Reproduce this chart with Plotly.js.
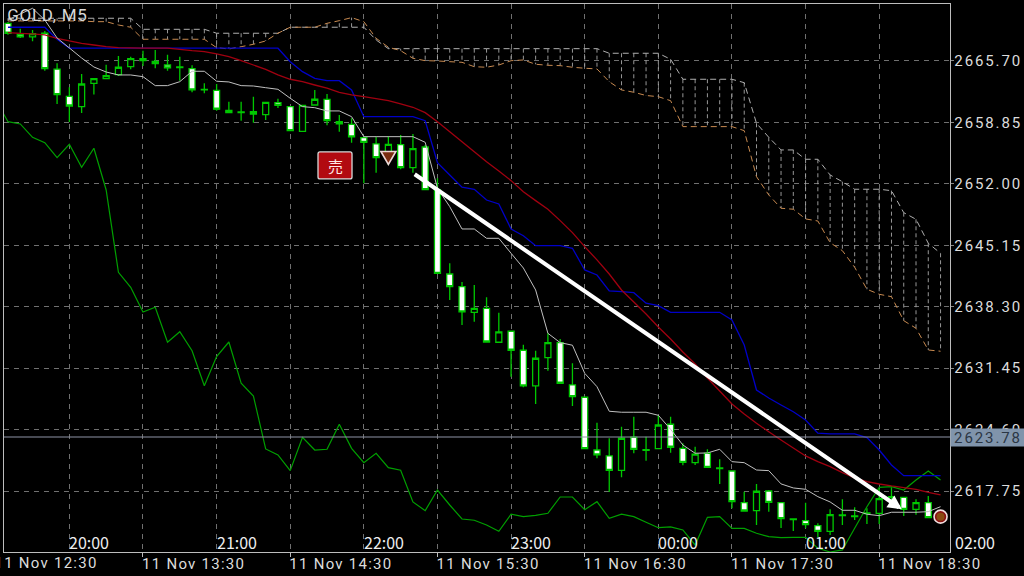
<!DOCTYPE html>
<html><head><meta charset="utf-8">
<script src="https://cdn.plot.ly/plotly-3.0.1.min.js"></script>
<style>
html,body{margin:0;padding:0;background:#000;}
.xtick text{letter-spacing:1.25px;}
.ytick text{letter-spacing:1.9px;}
.annotation[data-index="0"] text{letter-spacing:0.7px;}
.annotation[data-index="1"] text{letter-spacing:1.9px;}
.annotation[data-index="2"] text{letter-spacing:1.25px;}
</style></head><body><div id="chart" style="width:1024px;height:576px"></div>
<script>
const open=[2669.90,2668.68,2668.38,2668.79,2664.78,2661.76,2660.61,2663.21,2663.73,2664.18,2665.06,2665.96,2665.66,2665.25,2665.03,2664.84,2662.54,2662.43,2660.20,2660.02,2660.05,2659.72,2661.05,2660.61,2657.86,2660.79,2661.41,2658.93,2658.64,2657.15,2656.45,2655.22,2656.37,2653.80,2656.11,2651.32,2641.95,2640.54,2637.68,2638.13,2634.34,2635.57,2633.45,2629.47,2632.62,2634.30,2629.58,2628.21,2622.33,2621.67,2620.07,2623.75,2622.37,2622.48,2625.20,2622.52,2620.92,2621.97,2620.33,2619.99,2616.46,2615.57,2617.76,2616.46,2614.65,2614.45,2613.89,2613.27,2615.09,2614.98,2615.31,2615.27,2617.13,2617.06,2615.72,2616.46];
const close=[2668.79,2668.38,2668.74,2664.84,2661.95,2660.68,2663.13,2663.73,2664.06,2665.00,2665.96,2665.73,2665.40,2664.92,2664.96,2662.47,2662.47,2660.32,2659.94,2659.95,2659.79,2661.09,2660.76,2657.93,2660.76,2661.43,2659.04,2658.68,2657.23,2656.63,2654.92,2656.41,2653.80,2655.92,2651.35,2642.03,2640.54,2637.72,2638.13,2634.37,2635.49,2633.45,2629.47,2632.56,2634.30,2629.77,2628.28,2622.48,2621.78,2620.07,2623.64,2622.41,2622.30,2625.12,2622.64,2620.96,2621.86,2620.40,2620.26,2616.57,2615.53,2617.73,2616.50,2614.68,2614.58,2614.01,2613.27,2615.12,2615.02,2614.91,2615.24,2616.90,2617.06,2615.72,2616.46,2614.79];
const high=[2670.05,2669.30,2669.16,2669.04,2665.44,2662.77,2664.25,2663.73,2665.29,2666.26,2666.18,2666.85,2666.93,2666.40,2666.18,2665.22,2663.21,2663.13,2661.16,2661.16,2661.72,2661.09,2661.50,2660.68,2660.76,2662.47,2662.02,2659.68,2659.31,2657.26,2657.26,2657.34,2657.45,2657.56,2656.33,2652.62,2643.15,2641.06,2640.73,2639.36,2637.64,2635.57,2634.07,2633.40,2635.34,2634.71,2632.00,2628.24,2625.38,2623.64,2624.93,2626.05,2623.82,2626.24,2626.05,2623.08,2622.70,2622.41,2621.30,2619.99,2617.69,2618.55,2617.87,2616.46,2614.68,2616.46,2614.16,2615.72,2616.84,2615.95,2615.84,2618.06,2618.17,2617.06,2616.84,2617.20];
const low=[2668.63,2668.26,2667.90,2664.62,2660.90,2658.90,2659.90,2661.95,2663.66,2664.03,2664.78,2665.14,2664.89,2664.62,2663.50,2662.21,2662.10,2660.16,2659.87,2659.04,2658.82,2659.12,2660.46,2657.86,2657.86,2660.76,2658.53,2657.82,2656.59,2652.06,2653.25,2654.11,2653.63,2653.25,2651.32,2641.95,2639.06,2636.27,2636.64,2634.30,2634.30,2630.50,2629.32,2627.46,2631.17,2629.69,2627.24,2622.44,2621.41,2617.65,2619.29,2621.97,2621.14,2622.41,2622.03,2620.63,2620.66,2620.33,2618.55,2615.83,2615.46,2613.97,2615.46,2613.64,2613.30,2613.60,2612.60,2612.86,2613.97,2614.53,2614.09,2614.09,2616.01,2614.98,2615.12,2614.75];
const tenkan=[2670.27,2670.94,2671.57,2670.27,2668.26,2667.15,2666.03,2665.03,2664.47,2664.14,2664.14,2663.95,2662.95,2662.95,2663.39,2664.55,2664.55,2663.44,2663.36,2662.95,2662.91,2662.72,2662.54,2661.54,2660.61,2660.49,2660.13,2660.13,2659.49,2657.26,2657.26,2657.26,2657.26,2657.26,2656.63,2651.51,2649.46,2646.97,2646.97,2645.93,2645.93,2644.26,2642.62,2640.17,2635.34,2634.30,2634.01,2630.88,2629.39,2626.65,2626.54,2626.54,2626.54,2626.20,2624.64,2622.89,2621.97,2622.00,2622.41,2621.03,2620.92,2620.10,2620.03,2618.55,2618.10,2617.95,2617.13,2616.54,2615.61,2615.61,2615.17,2615.01,2615.39,2615.39,2615.39,2615.46,2616.01];
const kijun=[2669.46,2669.46,2669.46,2669.46,2668.12,2667.12,2667.12,2667.12,2667.12,2667.12,2667.12,2667.12,2667.12,2667.12,2667.12,2667.12,2667.12,2667.12,2667.12,2667.12,2667.12,2667.12,2667.12,2665.62,2664.51,2663.77,2663.50,2663.50,2662.47,2659.49,2659.49,2659.49,2659.49,2659.49,2659.04,2654.36,2652.99,2651.62,2651.40,2650.20,2649.76,2646.97,2646.22,2645.11,2645.11,2645.11,2644.82,2642.40,2641.84,2640.06,2639.98,2639.87,2638.69,2638.42,2637.68,2637.68,2637.68,2637.68,2637.68,2636.83,2634.04,2629.02,2628.13,2627.35,2626.60,2625.68,2624.20,2624.12,2624.12,2624.12,2623.71,2622.33,2620.66,2619.47,2619.47,2619.47,2619.47];
const slowLine=[2668.85,2668.77,2668.71,2668.60,2668.23,2667.93,2667.67,2667.48,2667.29,2667.18,2667.15,2667.12,2667.12,2667.12,2667.00,2666.85,2666.74,2666.48,2666.18,2665.73,2665.25,2664.77,2664.14,2663.66,2663.39,2663.02,2662.66,2662.21,2661.91,2661.72,2661.50,2661.27,2660.91,2660.54,2659.94,2658.93,2657.82,2656.70,2655.59,2654.47,2653.44,2652.36,2651.13,2650.13,2649.17,2647.90,2646.56,2645.00,2643.52,2641.95,2640.17,2638.83,2637.50,2636.05,2634.71,2633.26,2631.92,2630.36,2628.91,2627.46,2626.35,2625.31,2624.37,2623.45,2622.56,2621.67,2621.03,2620.47,2619.80,2619.21,2618.80,2618.54,2618.32,2618.13,2617.95,2617.62,2617.32];
const chikouX=[-1,0,1,2,3,4,5,6,7,8,9,10,11,12,13,14,15,16,17,18,19,20,21,22,23,24,25,26,27,28,29,30,31,32,33,34,35,36,37,38,39,40,41,42,43,44,45,46,47,48,49,50,51,52,53,54,55,56,57,58,59,60,61,62,63,64,65,66,67,68,69,70,71,72,73,74,75,76];
const chikou=[2661.35,2658.93,2658.68,2657.19,2656.59,2654.92,2656.41,2653.85,2655.97,2651.32,2642.14,2640.47,2637.72,2638.24,2634.34,2635.52,2633.40,2629.50,2632.74,2634.37,2629.77,2628.35,2622.45,2621.78,2620.03,2623.75,2622.33,2622.41,2625.20,2622.52,2620.92,2621.97,2620.36,2620.07,2616.54,2615.57,2617.87,2616.20,2614.64,2614.50,2613.97,2613.27,2615.17,2614.90,2615.05,2615.28,2617.09,2617.09,2615.68,2616.57,2614.72,2615.17,2614.90,2614.27,2613.67,2613.75,2613.42,2611.74,2614.83,2614.90,2613.60,2613.60,2613.05,2612.67,2612.56,2612.60,2612.60,2611.38,2610.96,2611.19,2613.60,2616.01,2618.17,2618.24,2617.87,2618.99,2620.00,2618.99];
const spanA=[2670.46,2670.46,2670.46,2670.46,2670.46,2670.46,2670.46,2670.46,2670.46,2670.46,2670.46,2669.23,2669.23,2669.23,2669.23,2669.23,2669.23,2668.79,2668.79,2668.79,2668.79,2668.79,2668.79,2669.46,2669.46,2669.46,2669.46,2669.46,2669.46,2669.46,2668.04,2667.07,2667.07,2667.07,2667.07,2667.07,2667.07,2667.07,2667.07,2667.07,2667.07,2667.07,2667.07,2667.07,2667.07,2667.07,2667.07,2667.07,2667.07,2666.56,2666.56,2666.56,2666.56,2666.56,2665.89,2663.66,2663.66,2663.66,2663.66,2663.66,2663.28,2658.75,2657.19,2655.78,2655.78,2654.74,2654.74,2652.99,2652.24,2651.40,2651.40,2651.40,2651.24,2648.79,2648.05,2645.38,2644.26];
const spanB=[2670.16,2670.16,2670.16,2670.16,2670.16,2670.16,2670.16,2670.08,2670.08,2669.71,2669.46,2668.12,2668.12,2668.12,2668.12,2668.12,2668.12,2667.18,2667.04,2667.29,2667.56,2667.93,2668.79,2669.46,2669.46,2669.46,2669.90,2670.19,2670.53,2670.08,2668.23,2667.23,2666.85,2666.00,2665.73,2665.70,2665.62,2665.55,2665.06,2665.00,2665.25,2665.73,2665.81,2665.33,2665.22,2665.18,2665.00,2664.89,2664.81,2663.39,2662.47,2662.21,2661.85,2661.72,2661.27,2658.38,2658.38,2658.38,2658.38,2658.38,2657.93,2652.80,2650.76,2649.28,2649.17,2648.09,2647.86,2645.44,2644.55,2642.70,2640.25,2639.69,2639.42,2636.75,2635.90,2633.48,2633.34];

const barX=open.map((_,i)=>i);
const lineX=spanA.map((_,i)=>i);
const priceTicks=[2617.75,2624.60,2631.45,2638.30,2645.15,2652.00,2658.85,2665.70];
const dateTicks=[11,23,35,47,59,71];
const dateLabels=['11 Nov 13:30','11 Nov 14:30','11 Nov 15:30','11 Nov 16:30','11 Nov 17:30','11 Nov 18:30'];
const gridOnly=[5,17,29,41,53,65];
const hourTicks=[5,17,29,41,53,65];
const hourLabels=['20:00','21:00','22:00','23:00','00:00','01:00'];
const lastPrice=2623.78;

const hatchX=[],hatchY=[];
lineX.forEach(i=>{hatchX.push(i,i,null);hatchY.push(spanA[i],spanB[i],null);});

const line=(x,y,color,width,dash)=>({type:'scatter',mode:'lines',x,y,hoverinfo:'skip',showlegend:false,connectgaps:false,line:{color,width,dash:dash||'solid',simplify:false}});
const traces=[
 {type:'candlestick',x:barX,open,high,low,close,whiskerwidth:0,showlegend:false,hoverinfo:'skip',
  increasing:{line:{color:'#00c800',width:1.3},fillcolor:'#000000'},
  decreasing:{line:{color:'#00c800',width:1.3},fillcolor:'#ffffff'}},
 line(hatchX,hatchY,'#a8a8a8',0.9,'4px,3px'),
 line(lineX,spanA,'#b0b0b0',1,'6px,4px'),
 line(lineX,spanB,'#c88a50',1,'6px,4px'),
 line(chikouX,chikou,'#00a000',1.2),
 line(lineX,kijun,'#0000c8',1.3),
 line(lineX,slowLine,'#a00010',1.3),
 line(lineX,tenkan,'#c0c0c0',1),
 {type:'scatter',mode:'markers',x:[76],y:[2614.90],hoverinfo:'skip',showlegend:false,marker:{symbol:'circle',size:13,color:'#8a1010',line:{color:'#f0dede',width:1.6}}},
 {type:'scatter',mode:'markers',x:[76],y:[2614.90],hoverinfo:'skip',showlegend:false,marker:{symbol:'circle',size:8,color:'#8a4a10'}}
];

const white='#dcdcdc';
const annotations=[
 {xref:'paper',yref:'paper',x:0.0045,y:0.9995,xanchor:'left',yanchor:'top',yshift:1,showarrow:false,text:'GOLD, M5',font:{family:'Roboto',size:17,color:'#d8d8d8'}},
 {xref:'paper',yref:'y',x:1,y:lastPrice,xanchor:'left',yanchor:'middle',showarrow:false,text:'2623.78',width:74,height:17,borderpad:0,align:'center',bgcolor:'#8094ab',font:{family:'Roboto',size:15,color:'#2b3644'}},
 {xref:'paper',yref:'paper',x:-0.0047,y:0,xanchor:'left',yanchor:'top',yshift:0,showarrow:false,text:'11 Nov 12:30',font:{family:'Roboto',size:15,color:white}},
 {xref:'x',yref:'y',x:26.65,y:2654.05,showarrow:false,text:'売',font:{family:'Noto Sans CJK JP',size:15,color:'#ffe8e8'}},
 {xref:'x',yref:'y',x:72.85,y:2615.72,axref:'x',ayref:'y',ax:32.9,ay:2653.3,showarrow:true,text:' ',arrowcolor:'#ffffff',arrowwidth:4,arrowhead:2,arrowsize:0.7},
 {xref:'paper',yref:'paper',x:1.0032,y:0,xanchor:'left',yanchor:'bottom',yshift:-4,showarrow:false,text:'02:00',font:{family:'Noto Sans CJK JP',size:16,color:'#eeeeee'}}
].concat(hourTicks.map((x,k)=>({xref:'x',yref:'paper',x,y:0,xanchor:'left',yanchor:'bottom',showarrow:false,xshift:-2,yshift:-4,text:hourLabels[k],font:{family:'Noto Sans CJK JP',size:16,color:'#eeeeee'}})));

const layout={
 width:1024,height:576,paper_bgcolor:'#000',plot_bgcolor:'#000',showlegend:false,dragmode:false,
 margin:{l:4,r:74,t:4,b:24,pad:0},
 font:{family:'Roboto',color:white},
 xaxis:{type:'linear',range:[-0.326,76.77],rangeslider:{visible:false},tickmode:'array',tickvals:dateTicks,ticktext:dateLabels,
  ticks:'outside',ticklen:4,tickcolor:'#bbb',tickwidth:1,ticklabelposition:'outside right',tickangle:0,ticklabelshift:-2,ticklabelstandoff:-2,
  tickfont:{family:'Roboto',size:15,color:white},
  showgrid:true,gridcolor:'#707070',griddash:'5px,5px',gridwidth:1,zeroline:false,
  showline:true,mirror:true,linecolor:'#bdbdbd',linewidth:1.3,
  minor:{tickmode:'array',tickvals:gridOnly,showgrid:true,gridcolor:'#707070',griddash:'5px,5px',gridwidth:1,ticks:''}},
 yaxis:{side:'right',range:[2610.96,2672.05],tickmode:'array',tickvals:priceTicks,ticktext:priceTicks.map(v=>v.toFixed(2)),
  ticks:'outside',ticklen:3,tickcolor:'#888',tickwidth:1,ticklabelstandoff:-3,tickfont:{family:'Roboto',size:15,color:white},
  showgrid:true,gridcolor:'#707070',griddash:'5px,5px',gridwidth:1,zeroline:false,
  showline:true,mirror:true,linecolor:'#bdbdbd',linewidth:1.3},
 shapes:[
  {type:'line',xref:'paper',yref:'y',x0:0,x1:1,y0:lastPrice,y1:lastPrice,line:{color:'#8f94a6',width:1}},
  {type:'path',xref:'x',yref:'y',xsizemode:'pixel',ysizemode:'pixel',xanchor:26.65,yanchor:2654.05,
   path:'M-15,-13.5 H15 Q17,-13.5 17,-11.5 V11.5 Q17,13.5 15,13.5 H-15 Q-17,13.5 -17,11.5 V-11.5 Q-17,-13.5 -15,-13.5 Z',
   fillcolor:'#b20a10',line:{color:'#d8d8d8',width:1.3}},
  {type:'path',xref:'x',yref:'y',xsizemode:'pixel',ysizemode:'pixel',xanchor:31,yanchor:2654.88,
   path:'M-7.5,6.5 H7.5 L0,-6.5 Z',fillcolor:'#7a2c10',line:{color:'#ecd6d6',width:1.6}}
 ],
 annotations
};
Plotly.newPlot('chart',traces,layout,{staticPlot:true,displayModeBar:false});
</script></body></html>
